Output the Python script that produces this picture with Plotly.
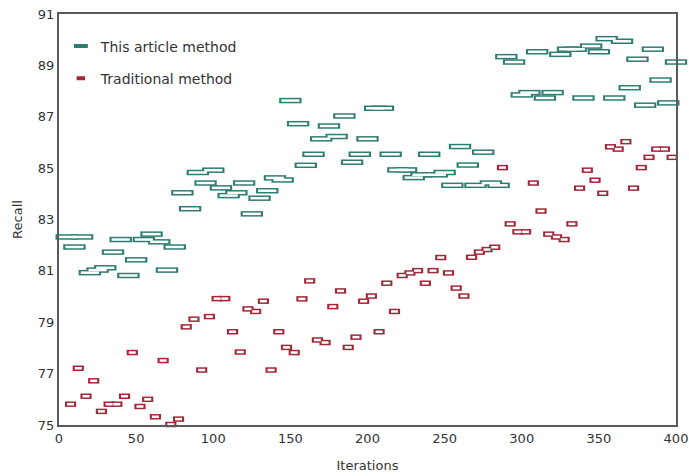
import plotly.graph_objects as go

# ---- data ----
article_x = list(range(5, 401, 5))
article_y = [
    82.32, 81.93, 82.32, 80.93, 81.03, 81.12, 81.73, 82.22, 80.82, 81.43,
    82.22, 82.43, 82.13, 81.03, 81.93, 84.04, 83.42, 84.83, 84.42, 84.92,
    84.23, 83.93, 84.04, 84.42, 83.22, 83.83, 84.12, 84.62, 84.54, 87.63,
    86.73, 85.11, 85.54, 86.14, 86.64, 86.23, 87.03, 85.23, 85.54, 86.14,
    87.33, 87.33, 85.54, 84.93, 84.93, 84.63, 84.74, 85.54, 84.74, 84.83,
    84.33, 85.84, 85.12, 84.33, 85.62, 84.42, 84.33, 89.34, 89.13, 87.85,
    87.94, 89.53, 87.73, 87.94, 89.43, 89.63, 89.63, 87.73, 89.75, 89.53,
    90.04, 87.73, 89.94, 88.13, 89.24, 87.45, 89.63, 88.43, 87.54, 89.13,
]
traditional_x = [2.5 + 5 * k for k in range(1, 81)]
traditional_y = [
    75.81, 77.21, 76.12, 76.72, 75.53, 75.81, 75.81, 76.12, 77.82, 75.72,
    76.00, 75.32, 77.51, 75.02, 75.23, 78.82, 79.12, 77.14, 79.22, 79.92,
    79.92, 78.63, 77.84, 79.52, 79.42, 79.82, 77.14, 78.63, 78.02, 77.82,
    79.91, 80.61, 78.31, 78.21, 79.61, 80.22, 78.02, 78.42, 79.82, 80.02,
    78.63, 80.52, 79.42, 80.82, 80.92, 81.01, 80.52, 81.01, 81.52, 80.92,
    80.33, 80.02, 81.53, 81.73, 81.83, 81.92, 85.02, 82.83, 82.52, 82.52,
    84.42, 83.33, 82.43, 82.32, 82.22, 82.83, 84.22, 84.92, 84.53, 84.02,
    85.83, 85.74, 86.03, 84.22, 85.02, 85.42, 85.74, 85.74, 85.42, 86.03,
]
x_ticks = [0, 50, 100, 150, 200, 250, 300, 350, 400]
y_ticks = [75, 77, 79, 81, 83, 85, 87, 89, 91]

TEAL = "#2f7d72"
RED = "#a3293a"
FONT = "DejaVu Sans"

fig = go.Figure()

def add_rects(xs, ys, name, color, w_out, w_in, w_leg, group):
    fig.add_trace(go.Scatter(
        x=xs, y=ys, mode="markers", showlegend=False, legendgroup=group,
        cliponaxis=False, name=name,
        marker=dict(symbol="line-ew", size=w_out, color=color,
                    line=dict(color=color, width=5.5)),
    ))
    fig.add_trace(go.Scatter(
        x=xs, y=ys, mode="markers", showlegend=False, legendgroup=group,
        cliponaxis=False, hoverinfo="skip",
        marker=dict(symbol="line-ew", size=w_in, color="white",
                    line=dict(color="white", width=2.5)),
    ))
    # legend entry
    fig.add_trace(go.Scatter(
        x=[None], y=[None], mode="markers", name=name, legendgroup=group,
        marker=dict(symbol="line-ew", size=w_leg, color=color,
                    line=dict(color=color, width=4)),
    ))

add_rects(article_x, article_y, "This article method", TEAL, 16, 13, 10, "a")
add_rects(traditional_x, traditional_y, "Traditional method", RED, 8, 5, 6, "b")

axis_common = dict(
    showline=True, linecolor="#5a5a5a", linewidth=2, mirror=True,
    showgrid=False, zeroline=False, ticks="", automargin=False,
    tickfont=dict(family=FONT, size=13, color="#333333"),
)

fig.update_layout(
    width=689, height=476,
    margin=dict(l=59, r=13, t=14, b=51),
    paper_bgcolor="white", plot_bgcolor="white",
    font=dict(family=FONT, size=13, color="#333333"),
    xaxis=dict(range=[0, 400], tickvals=x_ticks,
               title=dict(text="Iterations", font=dict(family=FONT, size=13), standoff=16),
               **axis_common),
    yaxis=dict(range=[75, 91], tickvals=y_ticks,
               title=dict(text="Recall", font=dict(family=FONT, size=13), standoff=12),
               **axis_common),
    legend=dict(x=0.003, y=0.96, xanchor="left", yanchor="top",
                bgcolor="rgba(0,0,0,0)", font=dict(family=FONT, size=14, color="#333333"),
                traceorder="grouped", tracegroupgap=11),
    showlegend=True,
)

fig.write_html("out.html")
